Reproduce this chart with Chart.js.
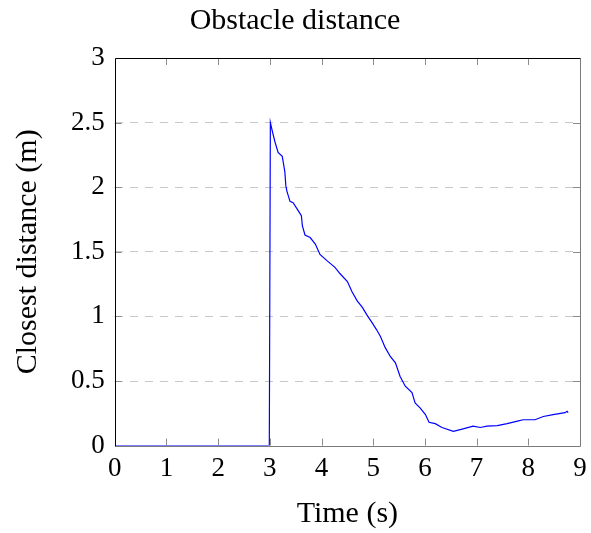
<!DOCTYPE html>
<html>
<head>
<meta charset="utf-8">
<title>Obstacle distance</title>
<script src="https://cdn.jsdelivr.net/npm/chart.js@4.4.1/dist/chart.umd.min.js"></script>
<style>
    html, body { margin: 0; padding: 0; background: #ffffff; }
    #wrap { width: 591px; height: 533px; }
</style>
</head>
<body>
<div id="wrap"><canvas id="distanceChart"></canvas></div>
<script>
// Closest obstacle distance over time
const timeS = [
    0, 2.99, 3.01, 3.05, 3.10, 3.16, 3.24, 3.29, 3.31, 3.33, 3.39, 3.45, 3.53, 3.61, 3.63,
    3.68, 3.78, 3.88, 3.97, 4.11, 4.26, 4.36, 4.50, 4.59, 4.69, 4.79, 4.88, 4.98, 5.06,
    5.14, 5.23, 5.33, 5.43, 5.52, 5.62, 5.75, 5.81, 5.91, 6.01, 6.08, 6.20, 6.33, 6.55,
    6.74, 6.93, 7.07, 7.20, 7.40, 7.59, 7.79, 7.90, 8.13, 8.29, 8.48, 8.71, 8.75, 8.77
];
const distM = [
    0, 0, 2.50, 2.43, 2.35, 2.27, 2.24, 2.12, 2.01, 1.97, 1.89, 1.88, 1.83, 1.78, 1.70,
    1.63, 1.61, 1.56, 1.48, 1.43, 1.38, 1.33, 1.27, 1.19, 1.12, 1.07, 1.01, 0.95, 0.90,
    0.845, 0.76, 0.69, 0.64, 0.535, 0.46, 0.41, 0.33, 0.29, 0.24, 0.18, 0.17, 0.14, 0.11,
    0.13, 0.15, 0.14, 0.15, 0.155, 0.17, 0.19, 0.20, 0.20, 0.225, 0.24, 0.255, 0.265, 0.255
];
const xTicks = [0, 1, 2, 3, 4, 5, 6, 7, 8, 9];
const yTicks = [0, 0.5, 1, 1.5, 2, 2.5, 3];

const serif = '"Liberation Serif", "Times New Roman", serif';

// box around the plot plus inward tick marks on all four sides
const frameTicks = {
    id: 'frameTicks',
    afterDatasetsDraw(chart) {
        const { ctx, chartArea: a, scales } = chart;
        const len = 7;
        ctx.save();
        ctx.lineWidth = 1;
        ctx.strokeStyle = '#8c8c8c';
        ctx.beginPath();
        xTicks.forEach(v => {
            if (v === 0 || v === 9) return;
            const px = Math.round(scales.x.getPixelForValue(v)) + 0.5;
            ctx.moveTo(px, a.bottom); ctx.lineTo(px, a.bottom - len);
            ctx.moveTo(px, a.top); ctx.lineTo(px, a.top + len);
        });
        yTicks.forEach(v => {
            if (v === 0 || v === 3) return;
            const py = Math.round(scales.y.getPixelForValue(v)) + 0.5;
            ctx.moveTo(a.left, py); ctx.lineTo(a.left + len, py);
            ctx.moveTo(a.right, py); ctx.lineTo(a.right - len, py);
        });
        ctx.stroke();

        const l = Math.round(a.left) + 0.5, r = Math.round(a.right) + 0.5;
        const t = Math.round(a.top) + 0.5, b = Math.round(a.bottom) + 0.5;
        ctx.strokeStyle = '#7a7a7a';
        ctx.beginPath();
        ctx.moveTo(r, t); ctx.lineTo(r, b);
        ctx.moveTo(l, b); ctx.lineTo(r, b);
        ctx.stroke();
        ctx.strokeStyle = '#000000';
        ctx.beginPath();
        ctx.moveTo(l, b); ctx.lineTo(l, t); ctx.lineTo(r, t);
        ctx.stroke();
        ctx.restore();
    }
};

document.addEventListener('DOMContentLoaded', function() {
    const ctx = document.getElementById('distanceChart');
    new Chart(ctx, {
        type: 'line',
        data: {
            datasets: [{
                data: timeS.map((t, i) => ({ x: t, y: distM[i] })),
                borderColor: '#0000ff',
                borderWidth: 1.2,
                pointRadius: 0,
                tension: 0,
                fill: false
            }]
        },
        options: {
            responsive: true,
            maintainAspectRatio: false,
            animation: false,
            layout: {
                padding: { left: 10, right: 11, top: 0, bottom: 1 }
            },
            plugins: {
                legend: { display: false },
                tooltip: { enabled: false },
                title: {
                    display: true,
                    text: 'Obstacle distance',
                    color: '#000000',
                    font: { family: serif, size: 30, weight: 'normal' },
                    padding: { top: 3, bottom: 19 }
                }
            },
            scales: {
                x: {
                    type: 'linear',
                    min: 0,
                    max: 9,
                    afterBuildTicks: function(scale) {
                        scale.ticks = xTicks.map(v => ({ value: v }));
                    },
                    afterFit: function(scale) {
                        // let the last label hang into the outer margin
                        scale.paddingRight = 0;
                    },
                    grid: { display: false, drawTicks: false },
                    border: { display: false },
                    ticks: {
                        color: '#000000',
                        padding: 7,
                        maxRotation: 0,
                        font: { family: serif, size: 27 }
                    },
                    title: {
                        display: true,
                        text: 'Time (s)',
                        color: '#000000',
                        font: { family: serif, size: 30 },
                        padding: { top: 4, bottom: 0 }
                    }
                },
                y: {
                    min: 0,
                    max: 3,
                    afterBuildTicks: function(scale) {
                        scale.ticks = yTicks.map(v => ({ value: v }));
                    },
                    grid: {
                        drawTicks: false,
                        lineWidth: 1,
                        color: function(c) {
                            const v = c.tick ? c.tick.value : 0;
                            return (v === 0 || v === 3) ? 'rgba(0,0,0,0)' : '#c8c8c8';
                        }
                    },
                    border: { display: false, dash: [8, 7] },
                    ticks: {
                        color: '#000000',
                        padding: 10,
                        font: { family: serif, size: 27 },
                        callback: function(value) {
                            return String(value);
                        }
                    },
                    title: {
                        display: true,
                        text: 'Closest distance (m)',
                        color: '#000000',
                        font: { family: serif, size: 30 },
                        padding: { top: 0, bottom: 15 }
                    }
                }
            }
        },
        plugins: [frameTicks]
    });
});
</script>
</body>
</html>
